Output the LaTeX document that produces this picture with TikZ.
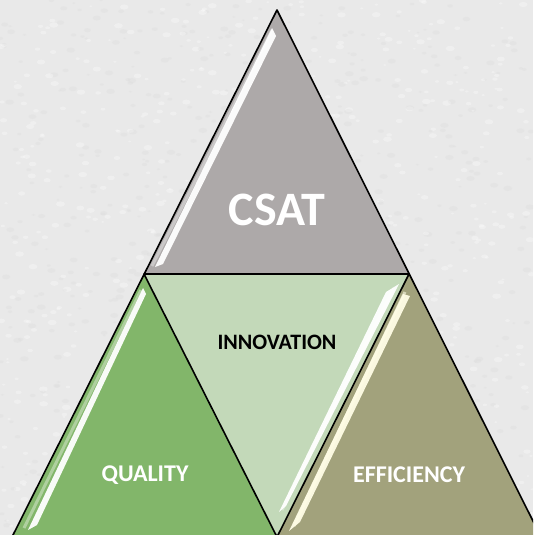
\documentclass[tikz,border=0pt]{standalone}
\usepackage{fontspec}
\setmainfont{Carlito}
\begin{document}
\begin{tikzpicture}[x=1pt,y=-1pt,
  tri/.style={draw=black,line width=1.6pt,line join=round},
  shine/.style={fill=white,opacity=0.95},
  glow/.style={line width=3pt,line join=round,opacity=0.6},
  lbl/.style={font=\bfseries,text=white,inner sep=0pt}]
\definecolor{bg}{HTML}{E9E9E9}
\definecolor{csatgray}{HTML}{ADA9A9}
\definecolor{innogreen}{HTML}{C3D9B9}
\definecolor{qualgreen}{HTML}{82B66A}
\definecolor{effolive}{HTML}{A2A27C}
\definecolor{cream}{HTML}{FFFDE6}
\useasboundingbox (0,0) rectangle (533,535);
\fill[bg] (0,0) rectangle (533,535);
\begin{scope}
\clip (0,0) rectangle (533,535);
\pgfmathsetseed{7}
\foreach \i in {1,...,1400}{
  \pgfmathsetmacro{\px}{rnd*533}
  \pgfmathsetmacro{\py}{rnd*535}
  \pgfmathsetmacro{\pw}{1.5+rnd*3}
  \pgfmathsetmacro{\pc}{rnd>0.5 ? 1 : 0}
  \ifdim\pc pt>0.5pt
    \fill[white,opacity=0.3] (\px,\py) ellipse [x radius=\pw, y radius=0.6*\pw];
  \else
    \fill[black!15,opacity=0.25] (\px,\py) ellipse [x radius=\pw, y radius=0.6*\pw];
  \fi
}
\coordinate (A) at (277,10);
\coordinate (L) at (144,274);
\coordinate (R) at (409,274);
\coordinate (BL) at (12,537);
\coordinate (BM) at (277,537);
\coordinate (BR) at (541,537);
% fills
\fill[csatgray] (A) -- (L) -- (R) -- cycle;
\fill[innogreen] (L) -- (R) -- (BM) -- cycle;
\fill[qualgreen] (L) -- (BL) -- (BM) -- cycle;
\fill[effolive] (R) -- (BM) -- (BR) -- cycle;
% highlights
\draw[glow,csatgray!40!white] (272,30) -- (152,266);
\fill[shine] (272,28) -- (276,36) -- (163,264) -- (155,267) -- cycle;
\draw[glow,qualgreen!40!white] (141,290) -- (24,528);
\fill[shine] (143,288) -- (146,294) -- (37,525) -- (28,530) -- cycle;
\draw[glow,innogreen!40!white] (394,288) -- (282,510);
\fill[shine] (386,292) -- (399,284) -- (286,506) -- (279,512) -- cycle;
\draw[glow,cream] (405,292) -- (294,526);
\fill[cream,opacity=0.95] (403,294) -- (410,296) -- (300,522) -- (289,531) -- cycle;
% outlines
\draw[tri] (A) -- (BL) -- (BR) -- cycle;
\draw[tri] (L) -- (R) -- (BM) -- cycle;
\end{scope}
\node[lbl,font=\bfseries\fontsize{48}{52}\selectfont] (csat) at (277,210) {CSAT};
\node[lbl,text=black,font=\bfseries\fontsize{22}{26}\selectfont] (inno) at (277,342) {INNOVATION};
\node[lbl,font=\bfseries\fontsize{24}{28}\selectfont] (qual) at (145,475) {QUALITY};
\node[lbl,font=\bfseries\fontsize{24}{28}\selectfont] (eff) at (409,475) {EFFICIENCY};
\end{tikzpicture}
\end{document}
